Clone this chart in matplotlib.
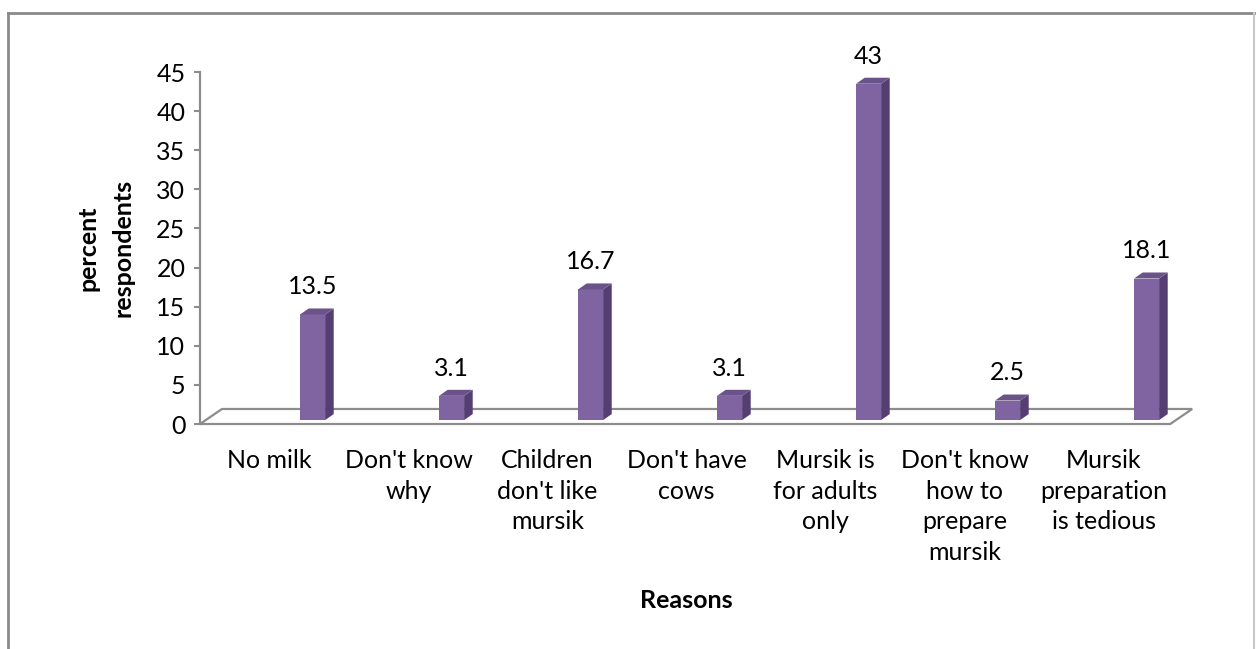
import matplotlib
matplotlib.use("Agg")
import matplotlib.pyplot as plt
from matplotlib.patches import Polygon
from matplotlib.lines import Line2D

reasons = ["No milk", "Don't know\nwhy", "Children\ndon't like\nmursik", "Don't have\ncows",
           "Mursik is\nfor adults\nonly", "Don't know\nhow to\nprepare\nmursik", "Mursik\npreparation\nis tedious"]
percent = [13.5, 3.1, 16.7, 3.1, 43, 2.5, 18.1]
value_labels = ["13.5", "3.1", "16.7", "3.1", "43", "2.5", "18.1"]
yticks = [0, 5, 10, 15, 20, 25, 30, 35, 40, 45]

plt.rcParams['font.family'] = ['Lato', 'DejaVu Sans']
fs = 18
grey = '#8c8c8c'
front_c = '#8064a2'
side_c = '#553f72'
top_c = '#6a5389'

fig = plt.figure(figsize=(12.56, 6.49), dpi=100)
ax = fig.add_axes([200/1256, (649-424)/649, 973/1256, 352/649])

# 3d look: offsets in data units
bar_off = 0.31
bar_w = 0.18
dx = 0.062
dy = 0.77
base = 0.5

xs = [i + bar_off for i in range(len(percent))]
ax.bar(xs, percent, width=bar_w, bottom=base, color=front_c, zorder=3)
for x, v, lab in zip(xs, percent, value_labels):
    x0 = x - bar_w/2
    x1 = x + bar_w/2
    top = base + v
    ax.add_patch(Polygon([(x1, base), (x1+dx, base+dy), (x1+dx, top+dy), (x1, top)],
                         closed=True, facecolor=side_c, edgecolor='none', zorder=3))
    ax.add_patch(Polygon([(x0, top), (x0+dx, top+dy), (x1+dx, top+dy), (x1, top)],
                         closed=True, facecolor=top_c, edgecolor='none', zorder=3))
    ax.text(x, top + dy + 1.3, lab, ha='center', va='bottom', fontsize=fs, color='black')

# floor
fx0, fx1 = -0.5, 6.48
fdx, fdy = 0.158, 1.92
ax.add_patch(Polygon([(fx0, 0), (fx1, 0), (fx1+fdx, fdy), (fx0+fdx, fdy)], closed=True,
                     facecolor='none', edgecolor=grey, lw=1.6, clip_on=False, zorder=2))

ax.set_xlim(-0.5, 6.5)
ax.set_ylim(0, 45)
ax.set_yticks(yticks)
ax.set_yticklabels([str(t) for t in yticks], fontsize=fs)
ax.set_xticks(range(len(reasons)))
ax.set_xticklabels(reasons, fontsize=fs, linespacing=1.4, va='top')
ax.tick_params(axis='x', length=0, pad=18)
ax.tick_params(axis='y', length=4.5, width=1.5, color=grey, pad=6)
for s in ['top', 'right', 'bottom']:
    ax.spines[s].set_visible(False)
ax.spines['left'].set_color(grey)
ax.spines['left'].set_linewidth(1.6)

ax.set_xlabel("Reasons", fontsize=fs, fontweight='bold', labelpad=18)
ax.set_ylabel("percent\nrespondents", fontsize=fs, fontweight='bold', linespacing=1.6, labelpad=16)

# chart border
fig.add_artist(Line2D([8/1256, 8/1256], [0, 1-13/649], color='#8a8a8a', lw=2))
fig.add_artist(Line2D([8/1256, 1254/1256], [1-13/649, 1-13/649], color='#8a8a8a', lw=2))
fig.add_artist(Line2D([1254/1256, 1254/1256], [0, 1-13/649], color='#c8c8c8', lw=1.5))

fig.savefig("out.png", dpi=100)
